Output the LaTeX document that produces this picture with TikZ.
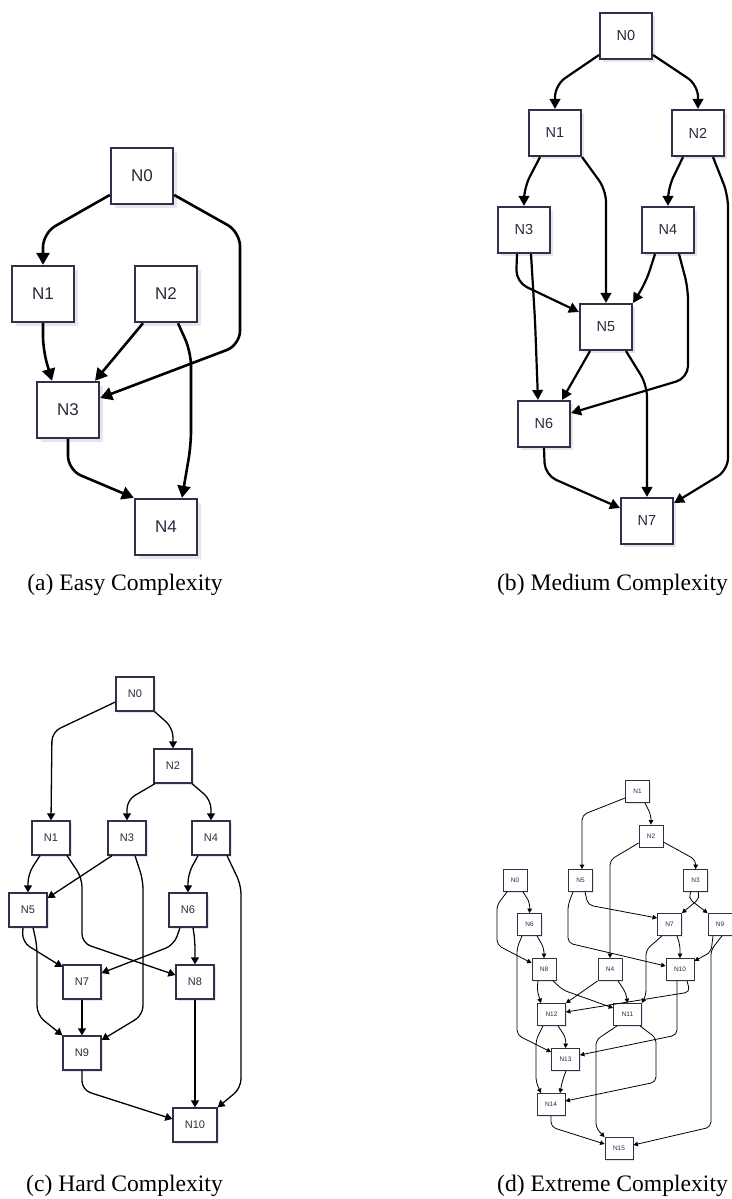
\documentclass[tikz,border=0pt]{standalone}
\usepackage{fontspec}
\setmainfont{Liberation Serif}
\newfontfamily\boxfont{Liberation Sans}
\usetikzlibrary{arrows.meta,calc,shadows}
\definecolor{boxline}{HTML}{30304A}
\definecolor{boxtext}{HTML}{2A2A3E}
\definecolor{boxshade}{HTML}{E6E6EA}

\tikzset{
  dagbox/.style={draw=boxline, fill=white, text=boxtext, inner sep=0pt},
  boxA/.style={dagbox, minimum width=62pt, minimum height=56pt, line width=2.4pt,
    font=\boxfont\fontsize{17}{20}\selectfont,
    drop shadow={shadow xshift=4pt, shadow yshift=-4pt, fill=boxshade, opacity=1}},
  boxB/.style={dagbox, minimum width=52pt, minimum height=46pt, line width=2.1pt,
    font=\boxfont\fontsize{14.5}{17}\selectfont,
    drop shadow={shadow xshift=3pt, shadow yshift=-3pt, fill=boxshade, opacity=1}},
  boxC/.style={dagbox, minimum width=38pt, minimum height=34pt, line width=1.3pt,
    font=\boxfont\fontsize{11}{13}\selectfont,
    drop shadow={shadow xshift=2pt, shadow yshift=-2pt, fill=boxshade, opacity=1}},
  boxD/.style={dagbox, minimum width=24pt, minimum height=22pt, line width=0.8pt,
    font=\boxfont\fontsize{6.5}{8}\selectfont,
    drop shadow={shadow xshift=1.2pt, shadow yshift=-1.2pt, fill=boxshade, opacity=1}},
  edgeA/.style={line width=2.6pt, -{Triangle[length=12pt,width=13pt]}, rounded corners=14pt},
  edgeB/.style={line width=2.2pt, -{Triangle[length=10pt,width=10.5pt]}, rounded corners=12pt},
  edgeC/.style={line width=1.3pt, -{Triangle[length=7pt,width=8pt]}, rounded corners=9pt},
  edgeD/.style={line width=0.8pt, -{Triangle[length=4.5pt,width=4.5pt]}, rounded corners=5pt},
  caption/.style={anchor=base, font=\fontsize{23.6}{28}\selectfont}
}

\begin{document}
\begin{tikzpicture}[x=1pt, y=-1pt]
\useasboundingbox (0,0) rectangle (731,1199);

% ---------- (a) Easy ----------
\node[boxA] (a0) at (142,176) {N0};
\node[boxA] (a1) at (43,294) {N1};
\node[boxA] (a2) at (166,294) {N2};
\node[boxA] (a3) at (68,410) {N3};
\node[boxA] (a4) at (166,527) {N4};

\draw[edgeA] (a0.west |- 0,195) -- (43,233) -- (43,0 |- a1.north);
\draw[edgeA] (a0.east |- 0,195) -- (240,232) -- (240,345) -- (a3.east |- 0,398);
\draw[edgeA] (a1.south) -- (43,350) -- (52,0 |- a3.north);
\draw[edgeA] (143,0 |- a2.south) -- (95,0 |- a3.north);
\draw[edgeA] (178,0 |- a2.south) -- (191,352) -- (191,445) -- (182,0 |- a4.north);
\draw[edgeA] (a3.south) -- (68,470) -- (a4.north west);

\node[caption] (capa) at (125,590) {(a) Easy Complexity};

% ---------- (b) Medium ----------
\node[boxB] (b0) at (626,36) {N0};
\node[boxB] (b1) at (555,133) {N1};
\node[boxB] (b2) at (698,133) {N2};
\node[boxB] (b3) at (524,230) {N3};
\node[boxB] (b4) at (668,230) {N4};
\node[boxB] (b5) at (606,327) {N5};
\node[boxB] (b6) at (544,424) {N6};
\node[boxB] (b7) at (647,521) {N7};

\draw[edgeB] (b0.west |- 0,55) -- (555,85) -- (b1.north);
\draw[edgeB] (b0.east |- 0,55) -- (698,85) -- (b2.north);
\draw[edgeB] (540,0 |- b1.south) -- (524,188) -- (b3.north);
\draw[edgeB] (b1.south east) -- (606,190) -- (b5.north);
\draw[edgeB] (683,0 |- b2.south) -- (668,188) -- (b4.north);
\draw[edgeB] (713,0 |- b2.south) -- (728,195) -- (728,470) -- (b7.east |- 0,503);
\draw[edgeB] (517,0 |- b3.south) -- (516,282) -- (b5.west |- 0,312);
\draw[edgeB] (531,0 |- b3.south) -- (535,320) -- (538,0 |- b6.north);
\draw[edgeB] (655,0 |- b4.south) -- (646,282) -- (b5.north east);
\draw[edgeB] (679,0 |- b4.south) -- (688,288) -- (688,378) -- (b6.east |- 0,413);
\draw[edgeB] (590,0 |- b5.south) -- (562,0 |- b6.north);
\draw[edgeB] (626,0 |- b5.south) -- (647,385) -- (b7.north);
\draw[edgeB] (b6.south) -- (545,475) -- (b7.west |- 0,508);

\node[caption] (capb) at (612.5,590) {(b) Medium Complexity};

% ---------- (c) Hard ----------
\node[boxC] (c0) at (135,694) {N0};
\node[boxC] (c2) at (173,766) {N2};
\node[boxC] (c1) at (51,838) {N1};
\node[boxC] (c3) at (127,838) {N3};
\node[boxC] (c4) at (211,838) {N4};
\node[boxC] (c5) at (28,910) {N5};
\node[boxC] (c6) at (188,910) {N6};
\node[boxC] (c7) at (82,982) {N7};
\node[boxC] (c8) at (195,982) {N8};
\node[boxC] (c9) at (82,1053) {N9};
\node[boxC, minimum width=44pt] (c10) at (195,1125) {N10};

\draw[edgeC] (c0.west |- 0,702) -- (52,732) -- (c1.north);
\draw[edgeC] (c0.south east) -- (173,728) -- (c2.north);
\draw[edgeC] (155,0 |- c2.south) -- (127,800) -- (c3.north);
\draw[edgeC] (192,0 |- c2.south) -- (211,800) -- (c4.north);
\draw[edgeC] (40,0 |- c1.south) -- (28,874) -- (c5.north);
\draw[edgeC] (67,0 |- c1.south) -- (82,878) -- (82,943) -- (c8.west |- 0,975);
\draw[edgeC] (112,0 |- c3.south) -- (c5.east |- 0,898);
\draw[edgeC] (135,0 |- c3.south) -- (143,880) -- (143,1015) -- (c9.east |- 0,1040);
\draw[edgeC] (198,0 |- c4.south) -- (188,874) -- (c6.north);
\draw[edgeC] (227,0 |- c4.south) -- (241,885) -- (241,1088) -- (c10.north east);
\draw[edgeC] (23,0 |- c5.south) -- (22,942) -- (c7.west |- 0,967);
\draw[edgeC] (33,0 |- c5.south) -- (37,945) -- (37,1015) -- (c9.north west);
\draw[edgeC] (180,0 |- c6.south) -- (174,945) -- (c7.east |- 0,973);
\draw[edgeC] (193,0 |- c6.south) -- (195,940) -- (c8.north);
\draw[edgeC] (c7.south) -- (c9.north);
\draw[edgeC] (c8.south) -- (c10.north);
\draw[edgeC] (c9.south) -- (82,1090) -- (c10.west |- 0,1119);

\node[caption] (capc) at (124.5,1191) {(c) Hard Complexity};

% ---------- (d) Extreme ----------
\node[boxD] (d1) at (637.5,791.5) {N1};
\node[boxD] (d2) at (651,836) {N2};
\node[boxD] (d0) at (515,880.5) {N0};
\node[boxD] (d5) at (580.5,880.5) {N5};
\node[boxD] (d3) at (695.5,880.5) {N3};
\node[boxD] (d6) at (529.5,924.5) {N6};
\node[boxD] (d7) at (669.5,924.5) {N7};
\node[boxD] (d9) at (720,924.5) {N9};
\node[boxD] (d8) at (544,969.5) {N8};
\node[boxD] (d4) at (610,969.5) {N4};
\node[boxD, minimum width=28pt] (d10) at (680,969.5) {N10};
\node[boxD, minimum width=28pt] (d12) at (551.5,1014.5) {N12};
\node[boxD, minimum width=28pt] (d11) at (627.5,1014.5) {N11};
\node[boxD, minimum width=28pt] (d13) at (565.5,1059.5) {N13};
\node[boxD, minimum width=28pt] (d14) at (551,1104.5) {N14};
\node[boxD, minimum width=28pt] (d15) at (619,1148.5) {N15};

\draw[edgeD] (d1.west |- 0,798) -- (582,815) -- (582,0 |- d5.north);
\draw[edgeD] (645,0 |- d1.south) -- (651,815) -- (d2.north);
\draw[edgeD] (d2.east |- 0,842) -- (696,860) -- (d3.north);
\draw[edgeD] (d2.west |- 0,843) -- (610,860) -- (d4.north);
\draw[edgeD] (523,0 |- d0.south) -- (530,903) -- (d6.north);
\draw[edgeD] (507,0 |- d0.south) -- (497,905) -- (497,945) -- (d8.west |- 0,963);
\draw[edgeD] (585,0 |- d5.south) -- (588,905) -- (d7.west |- 0,918);
\draw[edgeD] (573,0 |- d5.south) -- (568,905) -- (568,943) -- (d10.west |- 0,966);
\draw[edgeD] (698,0 |- d3.south) -- (700,898) -- (d7.north east);
\draw[edgeD] (691,0 |- d3.south) -- (688,898) -- (d9.north west);
\draw[edgeD] (537,0 |- d6.south) -- (544,948) -- (d8.north);
\draw[edgeD] (522,0 |- d6.south) -- (517,948) -- (517,1035) -- (d13.west |- 0,1052);
\draw[edgeD] (677,0 |- d7.south) -- (680,945) -- (d10.north);
\draw[edgeD] (662,0 |- d7.south) -- (646,950) -- (646,995) -- (d11.north east);
\draw[edgeD] (713,0 |- d9.south) -- (711,952) -- (d10.east |- 0,961);
\draw[edgeD] (722,0 |- d9.south) -- (711,950) -- (711,1127) -- (d15.east |- 0,1145);
\draw[edgeD] (538,0 |- d8.south) -- (537,990) -- (541,0 |- d12.north);
\draw[edgeD] (553,0 |- d8.south) -- (563,990) -- (d11.west |- 0,1008);
\draw[edgeD] (d4.south west) -- (d12.north east);
\draw[edgeD] (618,0 |- d4.south) -- (626,993) -- (d11.north);
\draw[edgeD] (687,0 |- d10.south) -- (690,992) -- (d12.east |- 0,1012);
\draw[edgeD] (677,0 |- d10.south) -- (677,1035) -- (d13.east |- 0,1055);
\draw[edgeD] (558,0 |- d12.south) -- (566,1038) -- (d13.north);
\draw[edgeD] (543,0 |- d12.south) -- (536,1040) -- (536,1082) -- (541,0 |- d14.north);
\draw[edgeD] (617,0 |- d11.south) -- (596,1040) -- (596,1128) -- (d15.north west);
\draw[edgeD] (640,0 |- d11.south) -- (656,1038) -- (656,1082) -- (d14.east |- 0,1101);
\draw[edgeD] (566,0 |- d13.south) -- (562,1082) -- (560,0 |- d14.north);
\draw[edgeD] (d14.south) -- (551,1127) -- (d15.west |- 0,1144);

\node[caption] (capd) at (612.5,1191) {(d) Extreme Complexity};
\end{tikzpicture}
\end{document}
